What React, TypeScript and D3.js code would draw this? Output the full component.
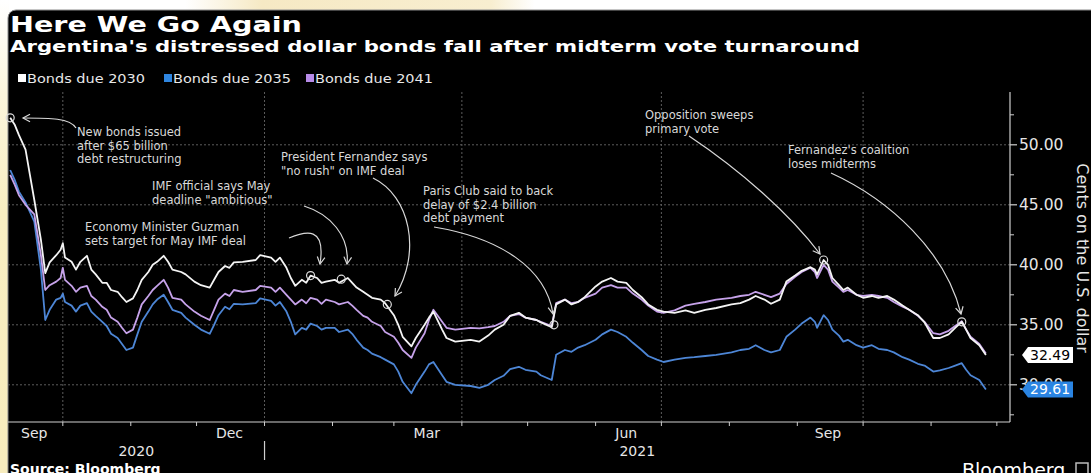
import React from 'react';
import * as d3 from 'd3';

const W = 1091;
const H = 473;

const seriesNames = ['Bonds due 2030', 'Bonds due 2035', 'Bonds due 2041'];
const lineColors = ['#f4f4f4', '#4d86d6', '#c6a2ea'];
const legendColors = ['#ffffff', '#2f86e0', '#b78be8'];

const dates = [
  '2020-09-07','2020-09-09','2020-09-11','2020-09-14','2020-09-16','2020-09-18','2020-09-21','2020-09-23','2020-09-25','2020-09-28','2020-09-30',
  '2020-10-01','2020-10-02','2020-10-05','2020-10-07','2020-10-09','2020-10-12','2020-10-14','2020-10-16','2020-10-19','2020-10-21','2020-10-23','2020-10-26','2020-10-28','2020-10-30',
  '2020-11-02','2020-11-04','2020-11-06','2020-11-09','2020-11-11','2020-11-13','2020-11-16','2020-11-18','2020-11-20','2020-11-24','2020-11-26','2020-11-30',
  '2020-12-03','2020-12-07','2020-12-09','2020-12-11','2020-12-14','2020-12-16','2020-12-18','2020-12-22','2020-12-28','2020-12-30',
  '2021-01-04','2021-01-06','2021-01-08','2021-01-11','2021-01-13','2021-01-15','2021-01-18','2021-01-20','2021-01-22','2021-01-25','2021-01-27','2021-01-29',
  '2021-02-02','2021-02-04','2021-02-08','2021-02-10','2021-02-12','2021-02-15','2021-02-17','2021-02-19','2021-02-23','2021-02-25',
  '2021-03-01','2021-03-03','2021-03-05','2021-03-09','2021-03-11','2021-03-15','2021-03-17','2021-03-19','2021-03-23','2021-03-25','2021-03-29',
  '2021-04-05','2021-04-09','2021-04-13','2021-04-16','2021-04-20','2021-04-23','2021-04-27','2021-04-30',
  '2021-05-05','2021-05-07','2021-05-12','2021-05-14','2021-05-18','2021-05-21','2021-05-24','2021-05-27',
  '2021-06-01','2021-06-04','2021-06-08','2021-06-11','2021-06-15','2021-06-18','2021-06-22','2021-06-25','2021-06-29',
  '2021-07-02','2021-07-07','2021-07-12','2021-07-16','2021-07-21','2021-07-26',
  '2021-08-02','2021-08-06','2021-08-10','2021-08-13','2021-08-17','2021-08-20','2021-08-24','2021-08-27','2021-08-31',
  '2021-09-03','2021-09-07','2021-09-09','2021-09-10','2021-09-13','2021-09-15','2021-09-17','2021-09-20','2021-09-22','2021-09-24','2021-09-28',
  '2021-10-01','2021-10-05','2021-10-08','2021-10-12','2021-10-15','2021-10-19','2021-10-22','2021-10-26','2021-10-29',
  '2021-11-02','2021-11-05','2021-11-09','2021-11-12','2021-11-15','2021-11-17','2021-11-19','2021-11-23','2021-11-26',
];

const bonds2030 = [
  52.25, 51.7, 50.8, 49.6, 47.5, 45.4, 42.1, 39.3, 40.2, 40.8, 41.25,
  41.8, 40.6, 40.25, 39.6, 40.25, 40.75, 39.6, 39.2, 38.5, 38.5, 37.9, 37.75, 37.3, 36.9,
  37.2, 37.9, 38.75, 39.4, 40, 40.25, 40.75, 40.25, 39.6, 39.4, 39.2, 38.6,
  38.3, 38.1, 38.75, 39.4, 39.9, 39.75, 40.2, 40.25, 40.4, 40.8,
  40.6, 40.25, 40.6, 39.75, 38.9, 38.25, 38.75, 38.5, 39.1, 38.9, 38.5, 38.6,
  38.75, 38.5, 38.9, 38.5, 38.1, 37.75, 37.5, 37.25, 37.1, 36.8,
  35.8, 35, 34, 33.2, 33.9, 35, 35.6, 36.1, 34.6, 33.9, 33.6,
  33.75, 33.6, 34.1, 34.6, 35, 35.75, 36, 35.6,
  35.4, 35.2, 34.8, 36.7, 37.1, 36.7, 36.9, 37.3,
  38.2, 38.6, 38.9, 38.6, 38.5, 37.9, 37.3, 36.7, 36.25,
  36.1, 36, 36.2, 36, 36.25, 36.4,
  36.7, 36.8, 37.1, 37.4, 37.1, 36.75, 37.1, 38.6, 39.1,
  39.5, 39.8, 39.6, 39.2, 40.4, 40, 38.9, 38.3, 37.9, 38.1, 37.5,
  37.25, 37.4, 37.25, 37.4, 37.1, 36.6, 36.25, 35.8, 35.2,
  33.9, 33.9, 34.2, 34.75, 35.25, 34.6, 33.9, 33.3, 32.49,
];

const bonds2035 = [
  47.9, 47.1, 46.1, 45.2, 44.4, 43.6, 39.6, 35.4, 36.25, 37.1, 37.25,
  37.6, 36.9, 36.6, 36.1, 36.6, 36.8, 36.1, 35.75, 35.25, 34.9, 34.25, 33.9, 33.4, 32.9,
  33.1, 34.2, 35.25, 36.1, 36.7, 37.1, 37.5, 36.9, 36.25, 36, 35.6, 35,
  34.6, 34.25, 35, 35.8, 36.5, 36.3, 36.75, 36.7, 36.8, 37.2,
  37, 36.6, 36.9, 36.1, 35.25, 34.2, 34.75, 34.6, 35.1, 34.9, 34.6, 34.75,
  34.75, 34.4, 34.6, 34.25, 33.75, 33.1, 32.9, 32.6, 32.3, 32.1,
  31.7, 31.1, 30.25, 29.3, 30, 31.1, 31.7, 31.9, 30.8, 30.25, 30,
  29.9, 29.75, 30, 30.4, 30.75, 31.3, 31.5, 31.25,
  31.1, 30.8, 30.4, 32.5, 32.9, 32.75, 33.1, 33.3,
  33.75, 34.2, 34.6, 34.4, 34, 33.5, 32.9, 32.4, 32.1,
  31.9, 32.1, 32.25, 32.3, 32.4, 32.5,
  32.7, 32.9, 33, 33.3, 32.9, 32.7, 32.9, 34, 34.6,
  35.1, 35.6, 35.25, 34.75, 35.8, 35.4, 34.6, 34.1, 33.6, 33.75, 33.3,
  33.1, 33.3, 33, 32.9, 32.7, 32.3, 32.1, 31.75, 31.6,
  31.1, 31.2, 31.4, 31.6, 31.8, 31.25, 30.8, 30.4, 29.61,
];

const bonds2041 = [
  47.5, 46.7, 45.8, 45, 44.6, 44.2, 40.8, 37.9, 38.3, 38.6, 38.9,
  39.75, 38.75, 38.25, 37.75, 38.1, 38.25, 37.4, 37.1, 36.5, 36.25, 35.6, 35.25, 34.75, 34.3,
  34.6, 35.6, 36.7, 37.4, 37.9, 38.25, 38.75, 38.1, 37.25, 37.1, 36.7, 36.1,
  35.75, 35.4, 36.25, 37.1, 37.6, 37.4, 37.9, 37.75, 37.9, 38.25,
  38.1, 37.75, 38.1, 37.5, 37.1, 36.7, 37.1, 36.8, 37.25, 37.1, 36.75, 37.1,
  36.9, 36.7, 36.9, 36.6, 36.25, 35.75, 35.6, 35.25, 34.9, 34.4,
  34, 33.5, 32.9, 32.25, 33.1, 34.3, 35.4, 36.25, 35.25, 34.75, 34.6,
  34.75, 34.7, 34.8, 34.9, 35.25, 35.75, 35.9, 35.6,
  35.4, 35.25, 34.9, 36.8, 37.1, 36.8, 36.9, 37.25,
  37.6, 38.1, 38.3, 38.1, 38.1, 37.6, 37.1, 36.6, 36.1,
  36, 36.2, 36.6, 36.75, 36.9, 37.1,
  37.25, 37.4, 37.5, 37.75, 37.5, 37.3, 37.6, 38.4, 39,
  39.4, 39.75, 39.4, 38.9, 40, 39.6, 38.6, 38.1, 37.75, 37.9, 37.5,
  37.4, 37.5, 37.4, 37.25, 36.9, 36.5, 36.25, 35.75, 35.25,
  34.3, 34.2, 34.5, 34.9, 35.3, 34.6, 34, 33.4, 32.6,
];

const yTicks = [30, 35, 40, 45, 50];
const yMinorTicks = [27.5, 32.5, 37.5, 42.5, 47.5, 52.5];
const quarterStarts = ['2020-10-01', '2021-01-01', '2021-04-01', '2021-07-01', '2021-10-01'];
const monthLabels = [
  ['2020-09-18', 'Sep'], ['2020-12-16', 'Dec'], ['2021-03-16', 'Mar'], ['2021-06-15', 'Jun'], ['2021-09-15', 'Sep'],
];
const yearLabels = [
  ['2020', '2020-09-06', '2021-01-01'],
  ['2021', '2021-01-01', '2021-12-07'],
];

// event markers: [date, value]
const events = [
  ['2020-09-07', 52.25],
  ['2021-01-22', 39.1],
  ['2021-02-05', 38.8],
  ['2021-02-26', 36.7],
  ['2021-05-13', 35.0],
  ['2021-09-13', 40.4],
  ['2021-11-15', 35.25],
];
const eventTexts = [
  ['New bonds issued', 'after $65 billion', 'debt restructuring'],
  ['Economy Minister Guzman', 'sets target for May IMF deal'],
  ['IMF official says May', 'deadline "ambitious"'],
  ['President Fernandez says', '"no rush" on IMF deal'],
  ['Paris Club said to back', 'delay of $2.4 billion', 'debt payment'],
  ['Opposition sweeps', 'primary vote'],
  ["Fernandez's coalition", 'loses midterms'],
];

const FONT = '"DejaVu Sans", Verdana, sans-serif';

// layout for annotation text and arrow curves
const textPos = [
  [77, 136], [85, 231], [152, 190], [281, 161], [423, 195], [645, 119], [788, 154],
];
const arrowCurves = [
  [[76, 128], [70, 118], [50, 118], [23, 118]],
  [[289, 238], [306, 231], [326, 226], [320, 264]],
  [[304, 206], [330, 214], [350, 236], [347, 264]],
  [[373, 178], [410, 196], [422, 252], [395, 296]],
  [[434, 227], [500, 238], [546, 268], [553, 314]],
  [[689, 136], [740, 170], [790, 214], [820, 254]],
  [[831, 173], [890, 200], [946, 252], [961, 314]],
];

function arrowHead(tip: number[], from: number[]) {
  const a = Math.atan2(tip[1] - from[1], tip[0] - from[0]);
  const L = 8;
  const s = 0.5;
  const p1 = [tip[0] - L * Math.cos(a - s), tip[1] - L * Math.sin(a - s)];
  const p2 = [tip[0] - L * Math.cos(a + s), tip[1] - L * Math.sin(a + s)];
  return `M${p1[0]},${p1[1]}L${tip[0]},${tip[1]}L${p2[0]},${p2[1]}`;
}

export default function App() {
  const parse = d3.timeParse('%Y-%m-%d');
  const D = dates.map((d) => parse(d) as Date);
  const x = d3.scaleTime().domain([parse('2020-09-06') as Date, parse('2021-12-07') as Date]).range([8, 1010]);
  const y = d3.scaleLinear().domain([26.9, 54.4]).range([422, 92]);
  const n = D.length;
  const mk = (vals: number[]) =>
    d3.line<number>().x((_, i) => x(D[i])).y((v) => y(v)).curve(d3.curveLinear)(vals.slice(0, n)) || '';

  const monthTicks = d3.timeMonth.range(parse('2020-10-01') as Date, parse('2021-12-02') as Date);
  const plotL = 8, plotR = 1010, plotT = 92, plotB = 422;

  const series = [
    { vals: bonds2035, color: lineColors[1] },
    { vals: bonds2041, color: lineColors[2] },
    { vals: bonds2030, color: lineColors[0] },
  ];

  const legendX = [18, 164, 306];
  const last2030 = bonds2030[n - 1];
  const last2035 = bonds2035[n - 1];

  const tag = (v: number) => {
    const c = y(v);
    return `M1022,${c} L1028,${c - 8} L1073,${c - 8} L1073,${c + 8} L1028,${c + 8} Z`;
  };

  return (
    <div style={{ position: 'absolute', left: 0, top: 0 }}>
      <svg width={W} height={H} viewBox={`0 0 ${W} ${H}`} style={{ display: 'block' }}>
        <defs>
          <linearGradient id="topCream" x1="0" x2="1" y1="0" y2="0">
            <stop offset="0" stopColor="#ffffff" />
            <stop offset="0.17" stopColor="#ffffff" />
            <stop offset="0.24" stopColor="#f6e9c4" />
            <stop offset="0.45" stopColor="#f8eed0" />
            <stop offset="0.49" stopColor="#ffffff" />
            <stop offset="1" stopColor="#ffffff" />
          </linearGradient>
          <linearGradient id="leftCream" x1="0" x2="0" y1="0" y2="1">
            <stop offset="0" stopColor="#ffffff" />
            <stop offset="0.2" stopColor="#fbf5dc" />
            <stop offset="0.45" stopColor="#f8eec2" />
            <stop offset="1" stopColor="#f7ecbd" />
          </linearGradient>
        </defs>
        <rect x={0} y={0} width={W} height={H} fill="#ffffff" />
        <rect x={0} y={0} width={W} height={11} fill="url(#topCream)" />
        <rect x={0} y={0} width={9} height={H} fill="url(#leftCream)" />
        <rect x={8} y={10} width={W + 20} height={H + 20} rx={8} fill="#000" stroke="#8a8a8a" strokeWidth={1} />

        {/* Titles */}
        <text x={10} y={32} fill="#fff" fontFamily={FONT} fontWeight="bold" fontSize={22} textLength={292} lengthAdjust="spacingAndGlyphs">Here We Go Again</text>
        <text x={10} y={52} fill="#fff" fontFamily={FONT} fontWeight="bold" fontSize={15.5} textLength={850} lengthAdjust="spacingAndGlyphs">Argentina's distressed dollar bonds fall after midterm vote turnaround</text>

        {/* Legend */}
        {seriesNames.map((name, i) => (
          <g key={name}>
            <rect x={legendX[i]} y={74} width={8} height={8} fill={legendColors[i]} />
            <text x={legendX[i] + 9} y={83} fill="#e8e8e8" fontFamily={FONT} fontSize={12.5} textLength={118} lengthAdjust="spacingAndGlyphs">{name}</text>
          </g>
        ))}

        {/* Grid */}
        {yTicks.map((t) => (
          <line key={'gy' + t} x1={plotL} x2={plotR} y1={y(t)} y2={y(t)} stroke="#5c5c5c" strokeWidth={1} strokeDasharray="2,2" />
        ))}
        {quarterStarts.map((q) => (
          <line key={'gx' + q} x1={x(parse(q) as Date)} x2={x(parse(q) as Date)} y1={plotT} y2={plotB} stroke="#5c5c5c" strokeWidth={1} strokeDasharray="2,2" />
        ))}

        {/* Axes */}
        <line x1={plotR} x2={plotR} y1={plotT} y2={plotB} stroke="#cfcfcf" strokeWidth={1.2} />
        <line x1={plotL} x2={plotR} y1={plotB} y2={plotB} stroke="#cfcfcf" strokeWidth={1.2} />
        {yTicks.map((t) => (
          <g key={'yt' + t}>
            <line x1={plotR} x2={plotR + 7} y1={y(t)} y2={y(t)} stroke="#cfcfcf" strokeWidth={1.2} />
            <text x={plotR + 9} y={y(t) + 5.5} fill="#e6e6e6" fontFamily={FONT} fontSize={15.5}>{t.toFixed(2)}</text>
          </g>
        ))}
        {yMinorTicks.map((t) => (
          <line key={'ym' + t} x1={plotR} x2={plotR + 4} y1={y(t)} y2={y(t)} stroke="#cfcfcf" strokeWidth={1} />
        ))}
        {monthTicks.map((m) => (
          <line key={'mt' + m.getTime()} x1={x(m)} x2={x(m)} y1={plotB} y2={plotB + 4} stroke="#cfcfcf" strokeWidth={1} />
        ))}
        {monthLabels.map(([d, l]) => (
          <text key={'ml' + d} x={x(parse(d) as Date)} y={438} textAnchor="middle" fill="#e6e6e6" fontFamily={FONT} fontSize={14}>{l}</text>
        ))}
        {yearLabels.map(([l, a, b]) => (
          <text key={'yl' + l} x={(x(parse(a) as Date) + x(parse(b) as Date)) / 2} y={456} textAnchor="middle" fill="#e6e6e6" fontFamily={FONT} fontSize={14}>{l}</text>
        ))}
        <line x1={x(parse('2021-01-01') as Date)} x2={x(parse('2021-01-01') as Date)} y1={441} y2={460} stroke="#cfcfcf" strokeWidth={1.2} />

        <text x={1077} y={258} transform="rotate(90 1077 258)" textAnchor="middle" fill="#e6e6e6" fontFamily={FONT} fontSize={16}>Cents on the U.S. dollar</text>

        {/* Lines */}
        {series.map((s, i) => (
          <path key={'s' + i} d={mk(s.vals)} fill="none" stroke={s.color} strokeWidth={1.8} strokeLinejoin="round" />
        ))}

        {/* Annotations */}
        {events.map(([d, v], i) => (
          <circle key={'ev' + i} cx={x(parse(d as string) as Date)} cy={y(v as number)} r={4} fill="none" stroke="#dcdcdc" strokeWidth={1.2} />
        ))}
        {arrowCurves.map((c, i) => (
          <g key={'ar' + i}>
            <path d={`M${c[0][0]},${c[0][1]}C${c[1][0]},${c[1][1]} ${c[2][0]},${c[2][1]} ${c[3][0]},${c[3][1]}`} fill="none" stroke="#d8d8d8" strokeWidth={1.2} />
            <path d={arrowHead(c[3], c[2])} fill="none" stroke="#d8d8d8" strokeWidth={1.2} />
          </g>
        ))}
        {eventTexts.map((lines, i) => (
          <text key={'et' + i} fill="#d8d8d8" fontFamily={FONT} fontSize={11.5}>
            {lines.map((ln, j) => (
              <tspan key={j} x={textPos[i][0]} y={textPos[i][1] + j * 13.5}>{ln}</tspan>
            ))}
          </text>
        ))}

        {/* End value labels */}
        <path d={tag(last2030)} fill="#ffffff" />
        <text x={1030} y={y(last2030) + 5} fill="#000" fontFamily={FONT} fontSize={14}>{last2030.toFixed(2)}</text>
        <path d={tag(last2035)} fill="#2a84e2" />
        <text x={1030} y={y(last2035) + 5} fill="#fff" fontFamily={FONT} fontSize={14}>{last2035.toFixed(2)}</text>

        {/* Footer */}
        <text x={10} y={474} fill="#fff" fontFamily={FONT} fontWeight="bold" fontSize={14}>Source: Bloomberg</text>
        <text x={962} y={477} fill="#fff" fontFamily={FONT} fontSize={19}>Bloomberg</text>
        <rect x={1076} y={463} width={12} height={12} fill="none" stroke="#bbb" strokeWidth={1.5} />
      </svg>
    </div>
  );
}
